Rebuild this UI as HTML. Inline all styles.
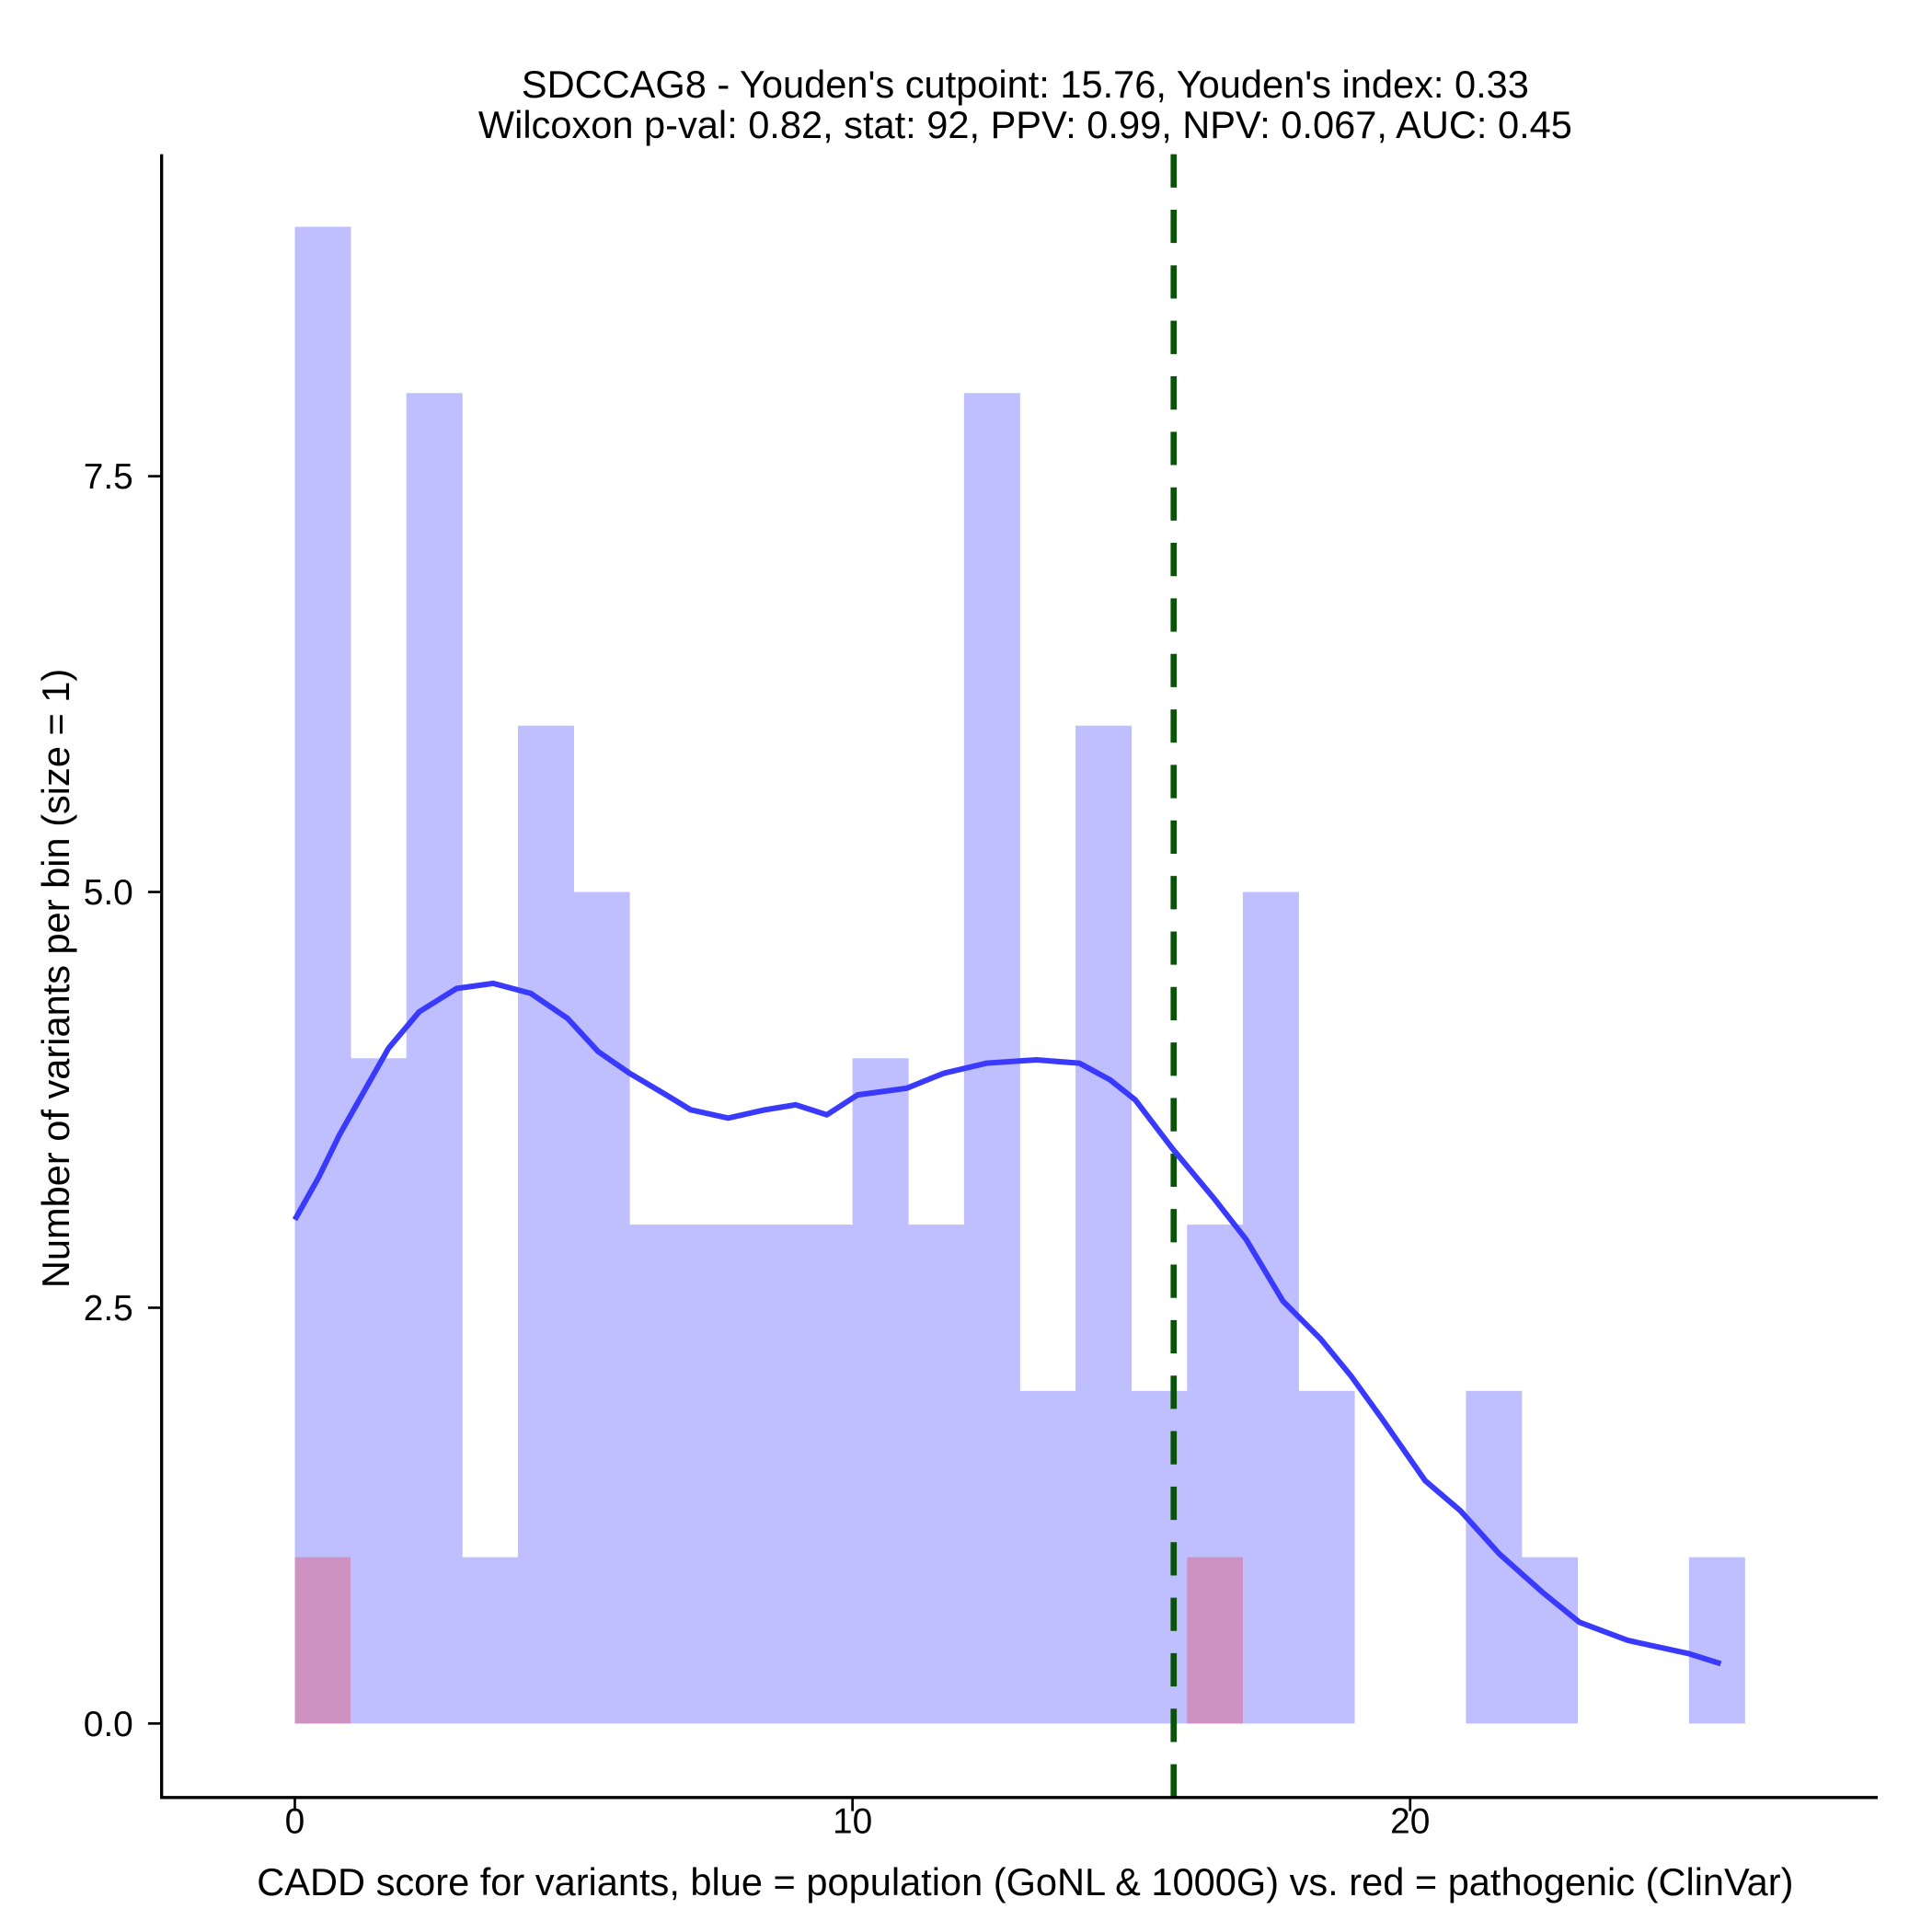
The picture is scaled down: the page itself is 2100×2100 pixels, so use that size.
<!DOCTYPE html>
<html><head><meta charset="utf-8"><style>
html,body{margin:0;padding:0;background:#fff}
svg{display:block}
text{font-family:"Liberation Sans",Arial,sans-serif;fill:#000}
</style></head><body>
<svg id="chart" width="2100" height="2100" viewBox="0 0 1566 1566" xmlns="http://www.w3.org/2000/svg">
<rect x="0" y="0" width="1566" height="1566" fill="#fff"/>
<g id="bars"></g>
<g id="vline"></g>
<g id="curve"></g>
<g id="axes"></g>
<text x="831" y="79" font-size="31" text-anchor="middle">SDCCAG8 - Youden's cutpoint: 15.76, Youden's index: 0.33</text>
<text x="831" y="112" font-size="31" text-anchor="middle">Wilcoxon p-val: 0.82, stat: 92, PPV: 0.99, NPV: 0.067, AUC: 0.45</text>
<text x="831" y="1536" font-size="31" text-anchor="middle">CADD score for variants, blue = population (GoNL &amp; 1000G) vs. red = pathogenic (ClinVar)</text>
<text transform="translate(56,793) rotate(-90)" font-size="31" text-anchor="middle">Number of variants per bin (size = 1)</text>
</svg>
<script>
const binStarts = [0,1,2,3,4,5,6,7,8,9,10,11,12,13,14,15,16,17,18,19,20,21,22,23,24,25];
const blueCounts = [9,4,8,1,6,5,3,3,3,3,4,3,8,2,6,2,3,5,2,0,0,2,1,0,0,1];
const redStarts = [0,16];
const redCounts = [1,1];
const cutpoint = 15.76;
const xTicks = [0,10,20];
const yTicks = [0,2.5,5,7.5];
const yTickLabels = ["0.0","2.5","5.0","7.5"];
const densX = [0,0.42,0.8,1.24,1.68,2.23,2.9,3.56,4.23,4.89,5.44,6.0,6.66,7.1,7.77,8.43,8.98,9.54,10.09,10.97,11.64,12.4,13.3,14.07,14.62,15.07,15.73,16.5,17.06,17.72,18.4,18.94,19.5,20.27,20.9,21.6,22.37,23.03,23.9,25.0,25.57];
const densY = [3.03,3.28,3.54,3.8,4.06,4.28,4.42,4.45,4.39,4.24,4.04,3.91,3.78,3.69,3.64,3.69,3.72,3.66,3.78,3.82,3.91,3.97,3.99,3.97,3.87,3.75,3.46,3.15,2.91,2.54,2.31,2.09,1.83,1.46,1.28,1.02,0.79,0.61,0.5,0.42,0.36];

const xs = v => 239 + v*45.2;
const ys = v => 1397 - v*134.8;
const NS = "http://www.w3.org/2000/svg";
function mk(tag, attrs, parent){const e=document.createElementNS(NS,tag);for(const k in attrs)e.setAttribute(k,attrs[k]);parent.appendChild(e);return e;}
const gB=document.getElementById('bars');
binStarts.forEach((b,i)=>{
  const c=blueCounts[i]; if(!c) return;
  const r=mk('rect',{x:xs(b),y:ys(c),width:xs(b+1)-xs(b)+0.3,height:ys(0)-ys(c),fill:'#bfbfff'},gB);
  
  
});
redStarts.forEach((b,i)=>{
  const c=redCounts[i];
  const r=mk('rect',{x:xs(b),y:ys(c),width:xs(b+1)-xs(b),height:ys(0)-ys(c),fill:'#ce91c1'},gB);
  
  
});
const vl=mk('line',{x1:xs(cutpoint),x2:xs(cutpoint),y1:125,y2:1457,stroke:'#0b520b','stroke-width':5,'stroke-dasharray':'27,18'},document.getElementById('vline'));


let d='';densX.forEach((x,i)=>{d+=(i?'L':'M')+xs(x).toFixed(1)+','+ys(densY[i]).toFixed(1);});
const cp=mk('path',{d:d,fill:'none',stroke:'#3a3aff','stroke-width':4.5,'stroke-linejoin':'round'},document.getElementById('curve'));


const gA=document.getElementById('axes');
const xa=mk('line',{x1:130,x2:1522,y1:1457,y2:1457,stroke:'#000','stroke-width':2.5},gA);


const ya=mk('line',{x1:131,x2:131,y1:125,y2:1458,stroke:'#000','stroke-width':2.5},gA);


xTicks.forEach(t=>{
  const l=mk('line',{x1:xs(t),x2:xs(t),y1:1457,y2:1468,stroke:'#000','stroke-width':2},gA);
  
  
  const tx=mk('text',{x:xs(t),y:1486,'font-size':29,'text-anchor':'middle'},gA);
  tx.textContent=String(t);
  
  
});
yTicks.forEach((t,i)=>{
  const l=mk('line',{x1:120,x2:131,y1:ys(t),y2:ys(t),stroke:'#000','stroke-width':2},gA);
  
  
  const tx=mk('text',{x:108,y:ys(t)+10,'font-size':29,'text-anchor':'end'},gA);
  tx.textContent=yTickLabels[i];
  
  
});
</script>
</body></html>
